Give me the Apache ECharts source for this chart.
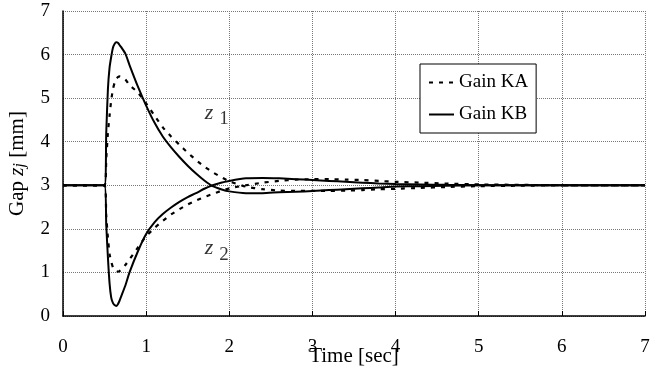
<!DOCTYPE html>
<html>
<head>
<meta charset="utf-8">
<script src="https://cdn.jsdelivr.net/npm/echarts@6/dist/echarts.min.js"></script>
<style>
  html, body { margin: 0; padding: 0; background: #fff; }
  #chart { width: 651px; height: 377px; }
</style>
</head>
<body>
<div id="chart"></div>
<script>
// time axis (sec), shared by all four curves
const timeArr = [0, 0.5, 0.52, 0.54, 0.56, 0.58, 0.6, 0.62, 0.64, 0.66, 0.68, 0.7, 0.75, 0.8, 0.9, 1.0,
  1.1, 1.2, 1.3, 1.4, 1.5, 1.6, 1.7, 1.8, 1.9, 2.0, 2.2, 2.4, 2.6, 2.8, 3.0, 3.2, 3.4, 3.6, 3.8, 4.0,
  4.3, 4.6, 5.0, 5.5, 6.0, 7.0]

// gain KA (dashed)
const z1KA = [3, 3, 3.6, 4.2, 4.6, 4.95, 5.2, 5.35, 5.44, 5.48, 5.5, 5.49, 5.43, 5.3, 5.13, 4.88,
  4.6, 4.33, 4.12, 3.93, 3.75, 3.58, 3.43, 3.3, 3.19, 3.09, 2.97, 2.91, 2.88, 2.87, 2.87, 2.87, 2.88, 2.89, 2.91, 2.92,
  2.94, 2.96, 2.98, 2.99, 3, 3]
const z2KA = [3, 3, 2.3, 1.8, 1.42, 1.25, 1.12, 1.06, 1.03, 1.02, 1.03, 1.06, 1.17, 1.3, 1.57, 1.83,
  2.02, 2.18, 2.33, 2.45, 2.56, 2.65, 2.73, 2.8, 2.87, 2.93, 3.0, 3.06, 3.1, 3.13, 3.14, 3.14, 3.13, 3.12, 3.1, 3.08,
  3.06, 3.04, 3.02, 3.01, 3, 3]

// gain KB (solid)
const z1KB = [3, 3, 4.2, 5.2, 5.7, 5.95, 6.15, 6.24, 6.28, 6.27, 6.22, 6.17, 6.02, 5.76, 5.27, 4.83,
  4.44, 4.12, 3.87, 3.65, 3.45, 3.27, 3.11, 2.98, 2.91, 2.86, 2.82, 2.82, 2.84, 2.85, 2.87, 2.89, 2.91, 2.93, 2.95, 2.97,
  2.98, 2.99, 3, 3, 3, 3]
const z2KB = [3, 3, 2.1, 1.35, 0.75, 0.42, 0.3, 0.25, 0.23, 0.27, 0.35, 0.45, 0.7, 1.0, 1.48, 1.88,
  2.15, 2.34, 2.49, 2.62, 2.73, 2.82, 2.92, 3.0, 3.06, 3.1, 3.16, 3.17, 3.16, 3.14, 3.12, 3.1, 3.08, 3.06, 3.04, 3.03,
  3.02, 3.01, 3, 3, 3, 3]

// curve labels [time, gap]
const labelZ1 = [1.85, 4.52]
const labelZ2 = [1.85, 1.41]

const axisTicks = [0, 1, 2, 3, 4, 5, 6, 7]

const FONT = 'Liberation Serif'

function pairs (ys) {
  return timeArr.map((t, i) => [t, ys[i]])
}

const chartInstance = echarts.init(document.getElementById('chart'), null, { renderer: 'canvas' })

const dashStyle = { color: '#000', width: 2.2, type: [4, 6] }
const solidStyle = { color: '#000', width: 2 }

function curve (name, ys, style) {
  return {
    name: name,
    type: 'line',
    data: pairs(ys),
    symbol: 'none',
    smooth: 0.2,
    lineStyle: style,
    itemStyle: { color: '#000' },
    silent: true
  }
}

function curveLabel (pos, sub) {
  return {
    type: 'scatter',
    data: [pos],
    symbolSize: 0,
    silent: true,
    label: {
      show: true,
      position: 'inside',
      formatter: '{z|z}  {s|' + sub + '}',
      rich: {
        z: { fontFamily: FONT, fontSize: 22, fontStyle: 'italic', color: '#000', padding: [0, 0, 12, 0] },
        s: { fontFamily: FONT, fontSize: 19, color: '#000' }
      }
    }
  }
}

const option = {
  animation: false,
  textStyle: { fontFamily: FONT },
  grid: { left: 63, right: 6, top: 11, bottom: 61, outerBoundsMode: 'none', containLabel: false },
  xAxis: {
    type: 'value',
    min: 0,
    max: 7,
    interval: 1,
    name: 'Time [sec]',
    nameLocation: 'middle',
    nameGap: 30,
    nameMoveOverlap: false,
    nameTextStyle: { fontFamily: FONT, fontSize: 21, color: '#000' },
    axisLine: { onZero: false, lineStyle: { color: '#000', width: 1.5 } },
    axisTick: { inside: true, length: 5, lineStyle: { color: '#000' } },
    axisLabel: {
      margin: 22,
      fontFamily: FONT,
      fontSize: 19,
      color: '#000',
      formatter: v => axisTicks.indexOf(v) >= 0 ? String(v) : ''
    },
    splitLine: { show: true, lineStyle: { color: '#777', type: 'dotted', width: 1 } }
  },
  yAxis: {
    type: 'value',
    min: 0,
    max: 7,
    interval: 1,
    name: '{a|Gap }{z|z}{j|j}{a| [mm]}',
    nameLocation: 'middle',
    nameGap: 35,
    nameMoveOverlap: false,
    nameTextStyle: {
      rich: {
        a: { fontFamily: FONT, fontSize: 21, color: '#000' },
        z: { fontFamily: FONT, fontSize: 21, fontStyle: 'italic', color: '#000' },
        j: { fontFamily: FONT, fontSize: 16, fontStyle: 'italic', color: '#000', padding: [6, 0, 0, 0] }
      }
    },
    axisLine: { show: true, onZero: false, lineStyle: { color: '#000', width: 1.5 } },
    axisTick: { show: false },
    axisLabel: { margin: 13, fontFamily: FONT, fontSize: 19, color: '#000' },
    splitLine: { show: true, lineStyle: { color: '#777', type: 'dotted', width: 1 } }
  },
  legend: {
    data: ['Gain KA', 'Gain KB'],
    orient: 'vertical',
    left: 420,
    top: 64,
    padding: [9, 8, 9, 8],
    itemGap: 13,
    itemWidth: 25,
    itemHeight: 14,
    itemStyle: { opacity: 0 },
    borderColor: '#000',
    borderWidth: 1,
    backgroundColor: '#fff',
    textStyle: { fontFamily: FONT, fontSize: 19, color: '#000' }
  },
  series: [
    curve('Gain KA', z1KA, dashStyle),
    curve('Gain KA', z2KA, dashStyle),
    curve('Gain KB', z1KB, solidStyle),
    curve('Gain KB', z2KB, solidStyle),
    curveLabel(labelZ1, '1'),
    curveLabel(labelZ2, '2')
  ]
}

chartInstance.setOption(option)
</script>
</body>
</html>
